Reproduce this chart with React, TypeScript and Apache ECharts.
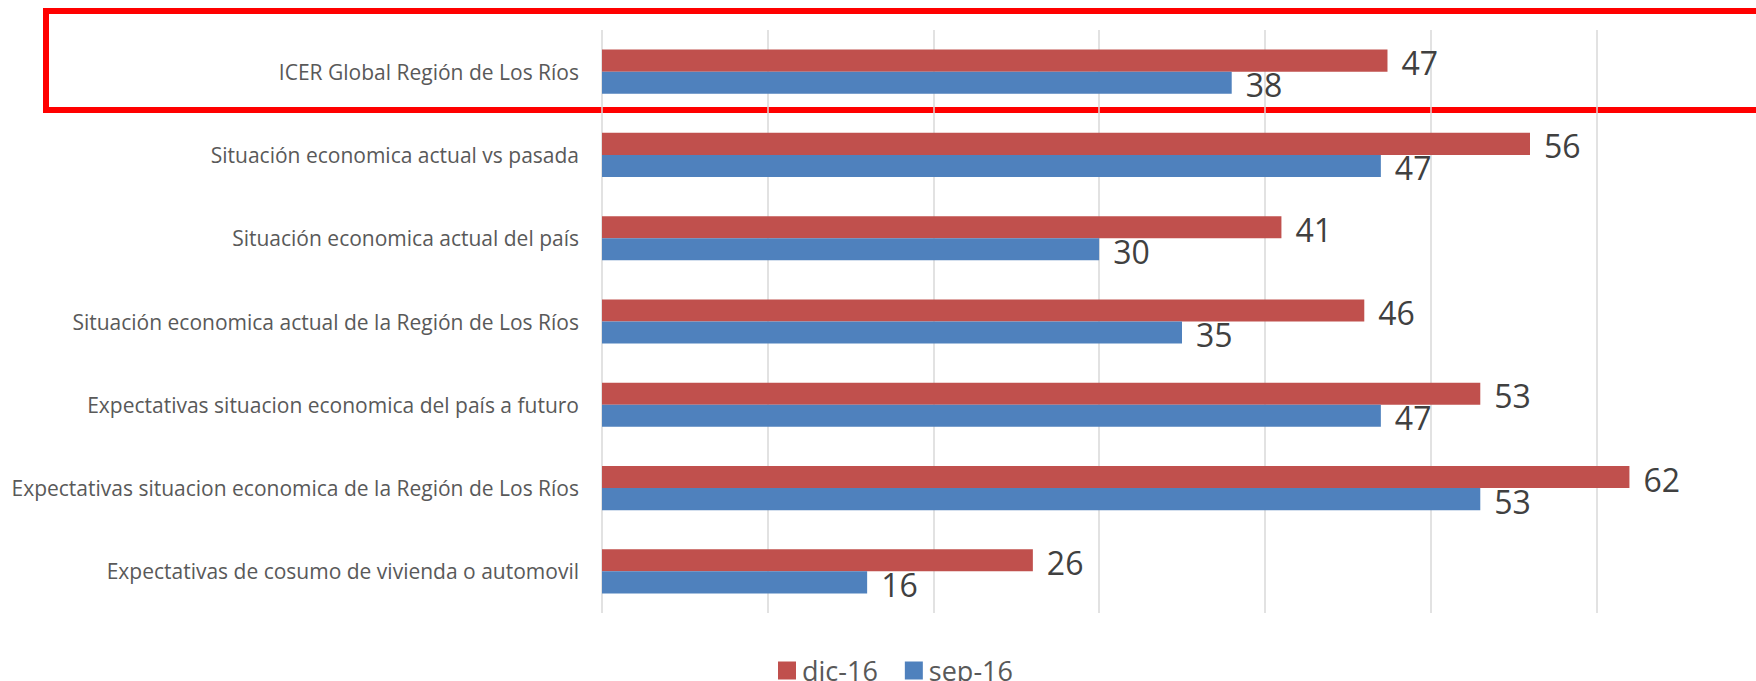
import React, { useEffect, useRef } from "react";
import * as echarts from "echarts";

const categories = [
  "ICER Global Región de Los Ríos",
  "Situación economica actual vs pasada",
  "Situación economica actual del país",
  "Situación economica actual de la Región de Los Ríos",
  "Expectativas situacion economica del país a futuro",
  "Expectativas situacion economica de la Región de Los Ríos",
  "Expectativas de cosumo de vivienda o automovil",
];
const seriesNames = ["dic-16", "sep-16"];
const dic16 = [47.4, 56, 41, 46, 53, 62, 26];
const sep16 = [38, 47, 30, 35, 47, 53, 16];

const FONT = "'Open Sans', 'Noto Sans', sans-serif";
const CHART_W = 1772;

export default function App() {
  const ref = useRef<HTMLDivElement>(null);
  useEffect(() => {
    if (!ref.current) return;
    const chart = echarts.init(ref.current, undefined, { renderer: "svg" });
    const label = {
      show: true,
      position: "right",
      distance: 14,
      fontSize: 32,
      color: "#404040",
      fontFamily: FONT,
      offset: [0, 2],
      formatter: (p: any) => String(Math.round(p.value)),
    };
    chart.setOption({
      animation: false,
      textStyle: { fontFamily: FONT },
      graphic: [
        {
          type: "rect",
          z: -10,
          shape: { x: 46, y: 11, width: 1800, height: 99 },
          style: { fill: "none", stroke: "#FF0000", lineWidth: 6 },
        },
      ],
      legend: {
        data: seriesNames,
        left: 778,
        top: 657,
        padding: 0,
        itemWidth: 18,
        itemHeight: 18,
        itemGap: 27,
        icon: "rect",
        textStyle: { fontSize: 27, color: "#595959", fontFamily: FONT, padding: [0, 0, 0, 1] },
      },
      grid: { left: 602, top: 30, bottom: 68, right: CHART_W - 1762, containLabel: false },
      xAxis: {
        type: "value",
        min: 0,
        max: 70,
        interval: 10,
        axisLabel: { show: false },
        axisLine: { show: false },
        axisTick: { show: false },
        splitLine: { show: true, lineStyle: { color: "#D9D9D9", width: 1.5 } },
      },
      yAxis: {
        type: "category",
        data: categories,
        inverse: true,
        axisTick: { show: false },
        axisLine: { show: false },
        splitLine: { show: false },
        axisLabel: {
          fontSize: 21,
          color: "#595959",
          fontFamily: FONT,
          margin: 23,
        },
      },
      series: [
        {
          name: seriesNames[0],
          type: "bar",
          data: dic16,
          barGap: "0%",
          barCategoryGap: "47%",
          itemStyle: { color: "#C0504D" },
          label,
        },
        {
          name: seriesNames[1],
          type: "bar",
          data: sep16,
          barGap: "0%",
          barCategoryGap: "47%",
          itemStyle: { color: "#4F81BD" },
          label,
        },
      ],
    });
    return () => chart.dispose();
  }, []);
  return (
    <div
      style={{
        position: "absolute",
        left: 0,
        top: 0,
        width: 1756,
        height: 681,
        overflow: "hidden",
      }}
    >
      <div ref={ref} style={{ width: CHART_W, height: 681 }} />
    </div>
  );
}
